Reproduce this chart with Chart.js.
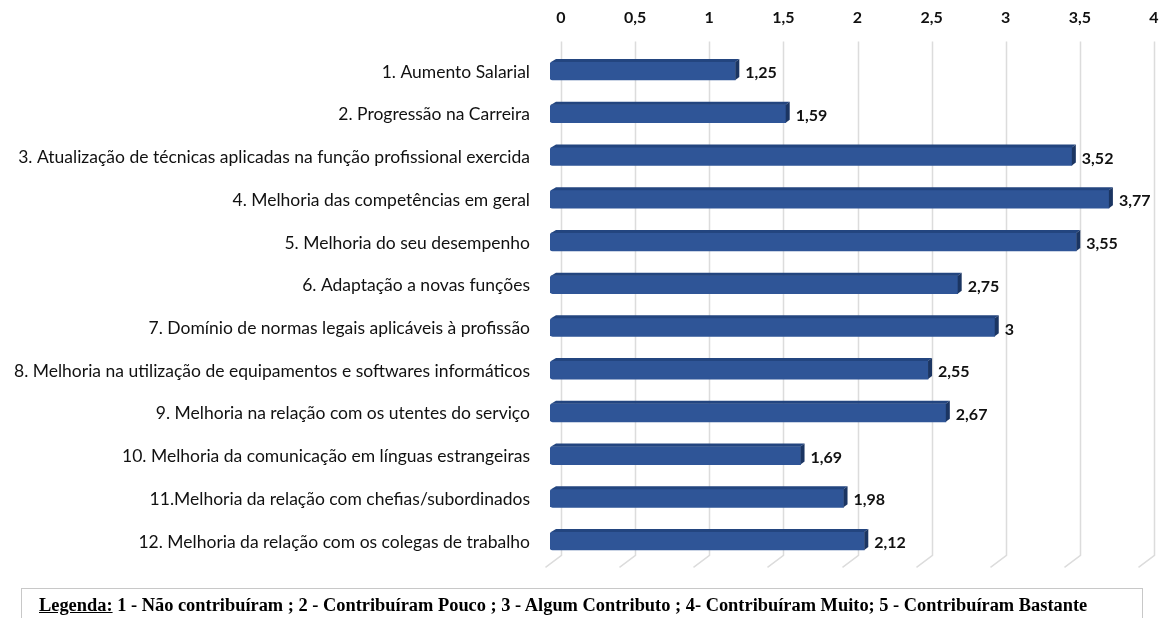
<!DOCTYPE html>
<html>
<head>
<meta charset="utf-8">
<script src="https://cdn.jsdelivr.net/npm/chart.js@4.4.0/dist/chart.umd.min.js"></script>
<style>
  html, body { margin: 0; padding: 0; background: #fff; overflow: hidden; }
  #wrap { position: relative; width: 1162px; height: 618px; }
  #c { position: absolute; left: 0; top: 0; }
  #legend {
    position: absolute; left: 21px; top: 588px; width: 1122px; height: 40px;
    border: 1px solid #c8c8c8; box-sizing: border-box;
    font-family: "Liberation Serif", "Times New Roman", serif; font-weight: bold;
    font-size: 18.4px; color: #000; padding-left: 17px; padding-top: 6px; white-space: nowrap;
  }
  #legend u { text-decoration: underline; }
</style>
</head>
<body>
<div id="wrap">
  <canvas id="c" width="1162" height="618"></canvas>
  <div id="legend"><u>Legenda:</u> 1 - Não contribuíram ; 2 - Contribuíram Pouco ; 3 - Algum Contributo ; 4- Contribuíram Muito; 5 - Contribuíram Bastante</div>
</div>
<script>
const categories = [
  "1. Aumento Salarial",
  "2. Progressão na Carreira",
  "3. Atualização de técnicas aplicadas na função profissional exercida",
  "4. Melhoria das competências em geral",
  "5. Melhoria do seu desempenho",
  "6. Adaptação a novas funções",
  "7. Domínio de normas legais aplicáveis à profissão",
  "8. Melhoria na utilização de equipamentos e softwares informáticos",
  "9. Melhoria na relação com os utentes do serviço",
  "10. Melhoria da comunicação em línguas estrangeiras",
  "11.Melhoria da relação com chefias/subordinados",
  "12. Melhoria da relação com os colegas de trabalho"
];
const values = [1.25, 1.59, 3.52, 3.77, 3.55, 2.75, 3, 2.55, 2.67, 1.69, 1.98, 2.12];
const axisMin = 0;
const axisMax = 4;
const axisStep = 0.5;

const fmt = v => String(v).replace('.', ',');

const DX = -11, DY = 1;
const DEPTH_X = 4, DEPTH_Y = 3;

const wallPlugin = {
  id: 'wall',
  beforeDatasetsDraw(chart) {
    const ctx = chart.ctx, xs = chart.scales.x, area = chart.chartArea;
    ctx.save();
    ctx.strokeStyle = '#dcdcdc';
    ctx.lineWidth = 1.5;
    xs.ticks.forEach(t => {
      const x = Math.round(xs.getPixelForValue(t.value)) + 0.5;
      ctx.beginPath();
      ctx.moveTo(x, area.top - 7);
      ctx.lineTo(x, area.bottom - 6);
      ctx.lineTo(x - 16, area.bottom + 6);
      ctx.stroke();
    });
    ctx.restore();
    ctx.save();
    ctx.translate(DX, DY);
  },
  afterDatasetsDraw(chart) {
    const ctx = chart.ctx;
    const meta = chart.getDatasetMeta(0);
    meta.data.forEach(bar => {
      const p = bar.getProps(['x', 'y', 'base', 'height'], true);
      const top = p.y - p.height / 2, bottom = p.y + p.height / 2;
      const left = p.base, right = p.x;
      ctx.fillStyle = '#23457f';
      ctx.beginPath();
      ctx.moveTo(left + 1, top);
      ctx.lineTo(right, top);
      ctx.lineTo(right + DEPTH_X, top - DEPTH_Y);
      ctx.lineTo(left + DEPTH_X + 2, top - DEPTH_Y);
      ctx.closePath();
      ctx.fill();
      ctx.fillStyle = '#1b3562';
      ctx.beginPath();
      ctx.moveTo(right, top);
      ctx.lineTo(right + DEPTH_X, top - DEPTH_Y);
      ctx.lineTo(right + DEPTH_X, bottom - DEPTH_Y);
      ctx.lineTo(right, bottom);
      ctx.closePath();
      ctx.fill();
    });
    ctx.restore();
    ctx.save();
    ctx.font = 'bold 16px Lato';
    ctx.fillStyle = '#111';
    ctx.textAlign = 'left';
    ctx.textBaseline = 'middle';
    meta.data.forEach((bar, i) => {
      const p = bar.getProps(['x', 'y'], true);
      ctx.fillText(fmt(values[i]), p.x + DX + DEPTH_X + 6, p.y + DY + 2);
    });
    ctx.restore();
  }
};

new Chart(document.getElementById('c'), {
  type: 'bar',
  data: {
    labels: categories,
    datasets: [{
      data: values,
      backgroundColor: '#2f5597',
      borderWidth: 0,
      borderRadius: {topLeft: 3, bottomLeft: 3, topRight: 0, bottomRight: 0},
      borderSkipped: false,
      barThickness: 18
    }]
  },
  options: {
    indexAxis: 'y',
    responsive: false,
    animation: false,
    layout: { padding: { left: 0, right: 8, top: 0, bottom: 56.6 } },
    plugins: { legend: { display: false }, tooltip: { enabled: false } },
    scales: {
      x: {
        position: 'top',
        min: axisMin, max: axisMax,
        ticks: {
          stepSize: axisStep,
          callback: v => fmt(v),
          font: { family: 'Lato', size: 16, weight: 'bold' },
          color: '#111',
          padding: 0
        },
        grid: { display: false, drawTicks: true, tickLength: 21 },
        border: { display: false },
        afterFit: s => { s.height = 48.6; }
      },
      y: {
        ticks: {
          font: { family: 'Lato', size: 17.5 },
          color: '#111',
          padding: 31,
          labelOffset: 2,
          autoSkip: false
        },
        grid: { display: false, drawTicks: false },
        border: { display: false },
        afterFit: s => { s.width = 561; }
      }
    }
  },
  plugins: [wallPlugin]
});
</script>
</body>
</html>
